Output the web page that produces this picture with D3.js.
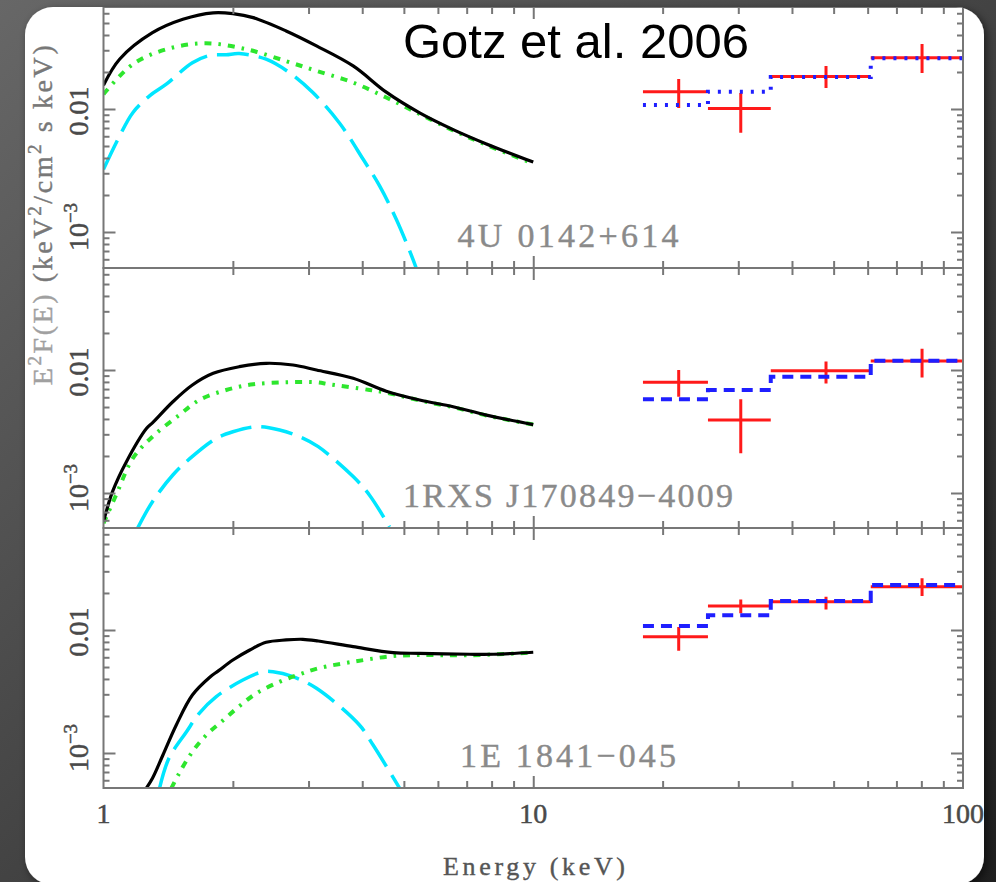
<!DOCTYPE html>
<html>
<head>
<meta charset="utf-8">
<script src="https://cdn.jsdelivr.net/npm/d3@7"></script>
<style>
  html, body { margin: 0; padding: 0; background: #3a3a3a; }
  svg { display: block; }
</style>
</head>
<body>
<svg id="chart" width="996" height="882"></svg>
<script>
// ---------- data ----------
const energyTickLabels = [1, 10, 100];
const fluxTickLabels = [0.01, 0.001];
const sourceNames = ["4U 0142+614", "1RXS J170849\u22124009", "1E 1841\u2212045"];

// hard X-ray bands (keV)
const bandEdges = [18, 25.5, 35.7, 61, 100];
const bandCenters = [21.8, 30.4, 48, 80.3];

// 4U 0142+614 : soft X-ray model components [keV, E^2 F(E)]
const totalA = [[1.00,0.0156],[1.09,0.0254],[1.30,0.0417],[1.53,0.0536],[1.80,0.0605],[2.00,0.0596],[2.23,0.0553],[2.66,0.0431],[3.13,0.0326],[3.81,0.0224],[4.55,0.0137],[5.44,0.0093],[6.51,0.0068],[7.78,0.0052],[10.0,0.0037]];
const powerLawA = [[1.00,0.0132],[1.17,0.0231],[1.40,0.0306],[1.73,0.0342],[2.15,0.0306],[2.66,0.0245],[3.13,0.0204],[3.81,0.0164],[4.55,0.0124],[5.44,0.0091],[6.51,0.0067],[7.78,0.0051],[10.0,0.0036]];
const blackbodyA = [[1.00,0.00323],[1.09,0.00603],[1.17,0.00933],[1.28,0.0128],[1.40,0.0159],[1.61,0.0238],[1.77,0.0273],[1.93,0.0276],[2.07,0.0282],[2.39,0.0254],[2.71,0.0197],[3.07,0.0136],[3.54,0.0077],[4.02,0.0039],[4.39,0.00237],[4.80,0.00127],[5.25,0.00060],[5.35,0.00050]];
const isgriA = [0.0138, 0.0101, 0.0184, 0.0261];
const isgriLoA = [0.0102, 0.0064, 0.0148, 0.0196];
const isgriHiA = [0.0175, 0.0135, 0.0224, 0.0338];
const modelA = [0.0108, 0.0138, 0.0182, 0.0258];

// 1RXS J170849-4009
const totalB = [[1.00,0.000585],[1.05,0.00103],[1.13,0.00179],[1.26,0.00336],[1.30,0.00372],[1.45,0.00552],[1.61,0.00755],[1.80,0.0094],[2.07,0.01064],[2.39,0.01134],[2.76,0.01098],[3.13,0.0100],[3.81,0.00856],[4.55,0.00672],[5.44,0.0057],[6.51,0.00503],[7.78,0.0043],[10.0,0.0036]];
const powerLawB = [[1.00,0.000567],[1.07,0.000964],[1.17,0.00191],[1.30,0.00287],[1.50,0.0043],[1.67,0.0057],[1.93,0.00688],[2.23,0.00765],[2.66,0.00794],[3.13,0.00794],[3.36,0.00765],[4.16,0.00688],[4.55,0.00655],[5.44,0.00565],[6.51,0.00498],[7.78,0.00427],[10.0,0.0036]];
const blackbodyB = [[1.20,0.000516],[1.30,0.00085],[1.45,0.0014],[1.59,0.00191],[1.83,0.00278],[2.00,0.00315],[2.27,0.00346],[2.57,0.00325],[2.86,0.00287],[3.16,0.00238],[3.81,0.00136],[4.16,0.00096],[4.63,0.00053]];
const isgriB = [0.00794, 0.00392, 0.00987, 0.01183];
const isgriLoB = [0.00607, 0.0021, 0.00775, 0.0087];
const isgriHiB = [0.0100, 0.00578, 0.0117, 0.0149];
const modelB = [0.00578, 0.00687, 0.00883, 0.0119];

// 1E 1841-045
const totalC = [[1.257,0.000516],[1.30,0.000623],[1.375,0.000963],[1.477,0.00169],[1.61,0.00296],[1.77,0.00415],[1.85,0.00465],[2.00,0.0057],[2.19,0.00688],[2.39,0.00794],[2.66,0.0083],[2.91,0.0084],[3.16,0.00814],[3.81,0.00732],[4.72,0.00654],[5.44,0.00646],[7.11,0.00635],[8.09,0.00635],[10.0,0.00659]];
const powerLawC = [[1.438,0.000516],[1.50,0.000684],[1.61,0.001025],[1.735,0.0014],[1.90,0.00185],[2.07,0.00240],[2.27,0.00306],[2.57,0.0038],[2.86,0.00436],[3.16,0.00488],[3.81,0.00552],[4.72,0.00614],[5.44,0.00626],[7.11,0.00623],[10.0,0.00656]];
const blackbodyC = [[1.35,0.000516],[1.42,0.000906],[1.56,0.00149],[1.67,0.0021],[1.83,0.00287],[2.11,0.00392],[2.35,0.00458],[2.48,0.00458],[2.76,0.00417],[3.13,0.00336],[3.94,0.00169],[4.24,0.00116],[4.89,0.000516]];
const isgriC = [0.00882, 0.01567, 0.0170, 0.0225];
const isgriLoC = [0.00679, 0.0137, 0.0147, 0.0189];
const isgriHiC = [0.0106, 0.0177, 0.0186, 0.0263];
const modelC = [0.0108, 0.0132, 0.0172, 0.0232];

const panels = [
  { name: sourceNames[0], total: totalA, pl: powerLawA, bb: blackbodyA, flux: isgriA, lo: isgriLoA, hi: isgriHiA, model: modelA, modelDash: "3,8" },
  { name: sourceNames[1], total: totalB, pl: powerLawB, bb: blackbodyB, flux: isgriB, lo: isgriLoB, hi: isgriHiB, model: modelB, modelDash: "11,7" },
  { name: sourceNames[2], total: totalC, pl: powerLawC, bb: blackbodyC, flux: isgriC, lo: isgriLoC, hi: isgriHiC, model: modelC, modelDash: "11,7" }
];

// ---------- layout ----------
const X_LEFT = 103.5, X_RIGHT = 963;
const panelTops = [7, 268, 528];
const panelBottoms = [268, 528, 788];
const DECADE_PX = 123;
const LOG_FLUX_TOP = -2 + 102 / DECADE_PX;   // 0.01 sits 102 px below each panel top
const FRAME = "#777";
const serif = "'Liberation Serif', 'DejaVu Serif', serif";

const svg = d3.select("#chart");
const defs = svg.append("defs");

// background and card
const bg = defs.append("linearGradient").attr("id", "bg").attr("x1", 0).attr("y1", 0).attr("x2", 1).attr("y2", 1);
bg.append("stop").attr("offset", "0%").attr("stop-color", "#676767");
bg.append("stop").attr("offset", "100%").attr("stop-color", "#1f1f1f");
svg.append("rect").attr("width", 996).attr("height", 882).attr("fill", "url(#bg)");

const shadow = defs.append("filter").attr("id", "shadow").attr("x", "-5%").attr("y", "-5%").attr("width", "110%").attr("height", "110%");
shadow.append("feDropShadow").attr("dx", 3).attr("dy", 3).attr("stdDeviation", 4)
  .attr("flood-color", "#000").attr("flood-opacity", 0.55);

const CARD = { x: 25, y: 7, w: 959, h: 878, r: 28 };
svg.append("rect").attr("x", CARD.x).attr("y", CARD.y).attr("width", CARD.w).attr("height", CARD.h)
  .attr("rx", CARD.r).attr("fill", "#fff").attr("filter", "url(#shadow)");
defs.append("clipPath").attr("id", "card").append("rect")
  .attr("x", CARD.x).attr("y", CARD.y).attr("width", CARD.w).attr("height", CARD.h).attr("rx", CARD.r);

const root = svg.append("g").attr("clip-path", "url(#card)");

const x = d3.scaleLog().domain([1, 100]).range([X_LEFT, X_RIGHT]);
const isDecade = v => Math.abs(Math.log10(v) - Math.round(Math.log10(v))) < 1e-6;

panels.forEach((p, i) => {
  const top = panelTops[i], bottom = panelBottoms[i];
  const height = bottom - top;
  const yMax = Math.pow(10, LOG_FLUX_TOP);
  const yMin = Math.pow(10, LOG_FLUX_TOP - height / DECADE_PX);
  const y = d3.scaleLog().domain([yMin, yMax]).range([bottom, top]);

  const g = root.append("g");
  const clipId = "plot" + i;
  defs.append("clipPath").attr("id", clipId).append("rect")
    .attr("x", X_LEFT).attr("y", top).attr("width", X_RIGHT - X_LEFT).attr("height", height);
  const plot = g.append("g").attr("clip-path", `url(#${clipId})`);

  const line = d3.line().x(d => x(d[0])).y(d => y(d[1])).curve(d3.curveCatmullRom.alpha(0.5));

  // soft X-ray model components
  plot.append("path").datum(p.bb).attr("d", line).attr("fill", "none")
    .attr("stroke", "#00e6ff").attr("stroke-width", 3.5).attr("stroke-dasharray", "32,10");
  plot.append("path").datum(p.pl).attr("d", line).attr("fill", "none")
    .attr("stroke", "#2ee62e").attr("stroke-width", 4).attr("stroke-dasharray", "7,7,2.5,7");
  plot.append("path").datum(p.total).attr("d", line).attr("fill", "none")
    .attr("stroke", "#000").attr("stroke-width", 3.2).attr("stroke-linejoin", "round");

  // hard X-ray data: crosses
  const bands = p.flux.map((v, k) => ({ lo: bandEdges[k], hi: bandEdges[k + 1], c: bandCenters[k], v, eLo: p.lo[k], eHi: p.hi[k] }));
  const cross = plot.append("g").attr("stroke", "#ff1a1a").attr("stroke-width", 3);
  cross.selectAll("line.h").data(bands).join("line").attr("class", "h")
    .attr("x1", d => x(d.lo)).attr("x2", d => x(d.hi)).attr("y1", d => y(d.v)).attr("y2", d => y(d.v));
  cross.selectAll("line.v").data(bands).join("line").attr("class", "v")
    .attr("x1", d => x(d.c)).attr("x2", d => x(d.c)).attr("y1", d => y(d.eLo)).attr("y2", d => y(d.eHi));

  // hard X-ray model: step line
  const steps = p.model.map((v, k) => [bandEdges[k], v]);
  steps.push([bandEdges[bandEdges.length - 1], p.model[p.model.length - 1]]);
  plot.append("path").datum(steps)
    .attr("d", d3.line().x(d => x(d[0])).y(d => y(d[1])).curve(d3.curveStepAfter))
    .attr("fill", "none").attr("stroke", "#1f1fff").attr("stroke-width", 4).attr("stroke-dasharray", p.modelDash);

  // frame
  g.append("rect").attr("x", X_LEFT).attr("y", top).attr("width", X_RIGHT - X_LEFT).attr("height", height)
    .attr("fill", "none").attr("stroke", FRAME).attr("stroke-width", 2);

  // ticks, all pointing inward
  const yAll = y.ticks();
  const yMinor = yAll.filter(v => !isDecade(v)), yMajor = yAll.filter(isDecade);
  const xAll = x.ticks().filter(v => v > 1 && v < 100);
  const xMinor = xAll.filter(v => !isDecade(v)), xMajor = xAll.filter(isDecade);
  const styleAxis = sel => {
    sel.select(".domain").remove();
    sel.selectAll(".tick line").attr("stroke", FRAME).attr("stroke-width", 2);
    sel.selectAll(".tick text").remove();
  };
  [[yMinor, 6], [yMajor, 12]].forEach(([vals, len]) => {
    g.append("g").attr("transform", `translate(${X_LEFT},0)`)
      .call(d3.axisRight(y).tickValues(vals).tickSize(len).tickFormat("")).call(styleAxis);
    g.append("g").attr("transform", `translate(${X_RIGHT},0)`)
      .call(d3.axisLeft(y).tickValues(vals).tickSize(len).tickFormat("")).call(styleAxis);
  });
  [[xMinor, 7], [xMajor, 12]].forEach(([vals, len]) => {
    g.append("g").attr("transform", `translate(0,${bottom})`)
      .call(d3.axisTop(x).tickValues(vals).tickSize(len).tickFormat("")).call(styleAxis);
    g.append("g").attr("transform", `translate(0,${top})`)
      .call(d3.axisBottom(x).tickValues(vals).tickSize(len).tickFormat("")).call(styleAxis);
  });

  // rotated flux tick labels
  fluxTickLabels.forEach(v => {
    const exp = Math.round(Math.log10(v));
    const t = root.append("text")
      .attr("transform", `translate(88,${y(v) + (exp === -2 ? 2 : -5)}) rotate(-90)`)
      .attr("text-anchor", "middle").attr("font-family", serif).attr("font-size", 28)
      .attr("fill", "#4a4a4a").attr("stroke", "#4a4a4a").attr("stroke-width", 0.5);
    if (exp === -2) {
      t.text("0.01");
    } else {
      t.append("tspan").text("10");
      t.append("tspan").attr("dy", -11).attr("font-size", 19).text("\u2212" + (-exp));
    }
  });

  // source name
  root.append("text").attr("x", 568).attr("y", bottom - 21).attr("text-anchor", "middle")
    .attr("font-family", serif).attr("font-size", 34)
    .attr("textLength", [221, 330, 216][i]).attr("lengthAdjust", "spacing")
    .attr("fill", "#8a8a8a").attr("stroke", "#8a8a8a").attr("stroke-width", 0.4)
    .text(p.name);
});

// energy tick labels
root.selectAll("text.etick").data(energyTickLabels).join("text").attr("class", "etick")
  .attr("x", d => x(d)).attr("y", 823).attr("text-anchor", "middle")
  .attr("font-family", serif).attr("font-size", 28)
  .attr("fill", "#4a4a4a").attr("stroke", "#4a4a4a").attr("stroke-width", 0.5)
  .text(d => d);

// axis titles
root.append("text").attr("x", 534).attr("y", 875).attr("text-anchor", "middle")
  .attr("font-family", serif).attr("font-size", 26).attr("textLength", 182).attr("lengthAdjust", "spacing")
  .attr("fill", "#555").attr("stroke", "#555").attr("stroke-width", 0.4)
  .text("Energy (keV)");

const yTitle = root.append("text").attr("transform", "translate(52,214) rotate(-90)")
  .attr("text-anchor", "middle").attr("font-family", serif).attr("font-size", 28)
  .attr("letter-spacing", 2.6).attr("stroke-width", 0.4);
const part = (txt, color, sup) => {
  const s = yTitle.append("tspan").attr("fill", color).attr("stroke", color).text(txt);
  if (sup === 1) s.attr("dy", -11).attr("font-size", 19);
  if (sup === -1) s.attr("dy", 11);
  return s;
};
part("E", "#a0a0a0");
part("2", "#a0a0a0", 1);
part("F(E) ", "#a0a0a0", -1);
part("(keV", "#787878");
part("2", "#787878", 1);
part("/cm", "#787878", -1);
part("2", "#787878", 1);
part(" s keV)", "#787878", -1);

// citation
root.append("text").attr("x", 403).attr("y", 58)
  .attr("font-family", "'Liberation Sans', Arial, Helvetica, sans-serif").attr("font-size", 49)
  .attr("fill", "#000").text("Gotz et al. 2006");
</script>
</body>
</html>
